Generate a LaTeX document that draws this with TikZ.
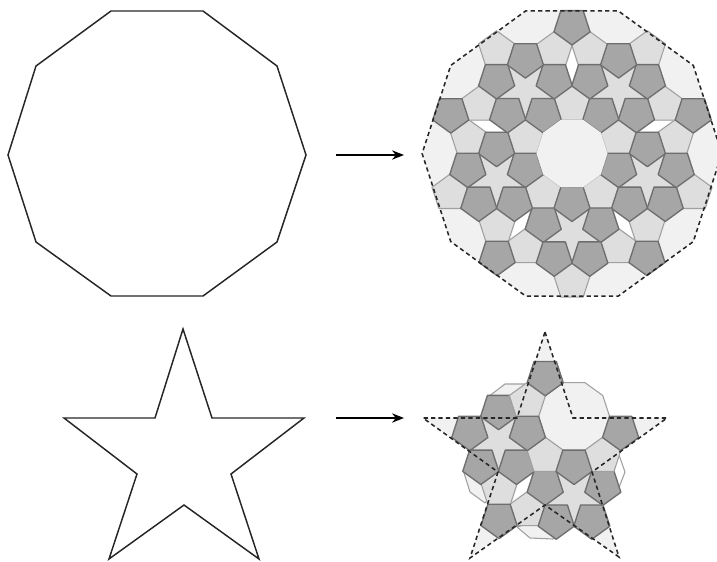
\documentclass[tikz,border=0pt]{standalone}
\usetikzlibrary{arrows.meta}
\definecolor{tdark}{HTML}{A6A6A6}
\definecolor{tdarke}{HTML}{6E6E6E}
\definecolor{tlight}{HTML}{DEDEDE}
\definecolor{tlighte}{HTML}{A0A0A0}
\definecolor{tpale}{HTML}{F1F1F1}
\tikzset{
  darktile/.style={fill=tdark,draw=tdarke,line width=1pt,line join=round},
  lighttile/.style={fill=tlight,draw=tlighte,line width=0.8pt,line join=round},
  startile/.style={fill=tlight,draw=none},
  paletile/.style={fill=tpale,draw=tlighte,line width=0.8pt,line join=round},
  gaptile/.style={fill=white,draw=none},
  solidoutline/.style={draw=black!85,line width=1.1pt,line join=miter},
  dashoutline/.style={draw=black!85,line width=1.15pt,dash pattern=on 3.2pt off 2.4pt},
  flowarrow/.style={draw=black,line width=1.05pt,-{Stealth[length=9pt,width=7pt]}}
}
\def\PR{19}
\newcommand{\darkp}[2]{\path[darktile,shift={(#1:#2)}] (270:\PR)--(342:\PR)--(54:\PR)--(126:\PR)--(198:\PR)--cycle;}
\newcommand{\lightp}[2]{\path[lighttile,shift={(#1:#2)}] (90:\PR)--(162:\PR)--(234:\PR)--(306:\PR)--(18:\PR)--cycle;}
\newcommand{\starp}[1]{\path[startile,shift={(#1:79.28)}] (270:31)--(306:11.57)--(342:31)--(18:11.57)--(54:31)--(90:11.57)--(126:31)--(162:11.57)--(198:31)--(234:11.57)--cycle;}
\newcommand{\gapr}[1]{\path[gaptile,rotate=#1-90] (0,72)--(5.5,88)--(0,104.5)--(-5.5,88)--cycle;}
\newcommand{\decag}[2]{(0:#2)--(36:#2)--(72:#2)--(108:#2)--(144:#2)--(180:#2)--(216:#2)--(252:#2)--(288:#2)--(324:#2)--cycle}
\begin{document}
\begin{tikzpicture}[x=0.75pt,y=-0.75pt]
\useasboundingbox (0,0) rectangle (717,561);
\clip (0,0) rectangle (717,561);

% left outlines
\path[solidoutline] (111,11)--(203,11)--(277,66)--(306,155)--(277,242)--(203,296)--(111,296)--(36,242)--(8,155)--(36,66)--cycle;
\path[solidoutline] (183,329)--(212,418)--(304,418)--(231,474)--(259,559)--(184,505)--(109,559)--(137,474)--(64,418)--(155,418)--cycle;

% arrows
\coordinate (a1s) at (336,155); \coordinate (a1e) at (404,155);
\coordinate (a2s) at (336,418); \coordinate (a2e) at (404,418);
\draw[flowarrow] (a1s) -- (a1e);
\draw[flowarrow] (a2s) -- (a2e);

% decagon tiling
\begin{scope}[shift={(572,153.5)},y=0.75pt]
  \fill[tpale] \decag{0}{149.9};
  \foreach \a in {90,162,234,306,18}{\gapr{\a}}
  \foreach \a in {270,342,54,126,198}{\lightp{\a}{128.27}\starp{\a}}
  \foreach \a in {90,162,234,306,18}{\lightp{\a}{49}}
  \foreach \a in {99.8,171.8,243.8,315.8,27.8,80.2,152.2,224.2,296.2,8.2}{\lightp{\a}{104.5}}
  \foreach \a in {270,342,54,126,198}{\darkp{\a}{49}}
  \foreach \a in {247.6,319.6,31.6,103.6,175.6,292.4,4.4,76.4,148.4,220.4}{\darkp{\a}{75.62}}
  \foreach \a in {260.27,332.27,44.27,116.27,188.27,279.73,351.73,63.73,135.73,207.73}{\darkp{\a}{105.3}}
  \foreach \a in {90,162,234,306,18}{\darkp{\a}{127.5}}
  \fill[tpale] \decag{0}{35.6};
  \path[dashoutline] \decag{0}{149.9};
\end{scope}

% star patch
\path[fill=tpale] (545,332)--(573,418)--(667,418)--(592,472)--(619,557)--(545,505)--(470,558)--(498,472)--(423,418)--(517,418)--cycle;
\path[paletile] (488,397)--(505,384)--(548,384)--(540,412)--(505,412)--cycle;
\path[paletile] (464,473)--(470,492)--(485,503)--(497,490)--(480,468)--cycle;
\path[paletile] (517,527)--(530,538)--(553,539)--(562,530)--(540,520)--cycle;
\path[fill=white,draw=tlighte,line width=0.8pt] (618,452)--(625,472)--(618,490)--(612,472)--cycle;
\begin{scope}[shift={(574,416.5)},y=0.75pt]
  \gapr{234}
  \starp{270}\starp{198}
  \foreach \a in {224.2,243.8}{\lightp{\a}{104.5}}
  \foreach \a in {175.6,220.4,247.6,292.4}{\darkp{\a}{75.62}}
  \foreach \a in {188.27,207.73,260.27,279.73}{\darkp{\a}{105.3}}
  \darkp{234}{127.5}
  \path[paletile] \decag{0}{35.6};
  \foreach \a in {234,306,162}{\lightp{\a}{49}}
  \foreach \a in {126,198,342,270}{\darkp{\a}{49}}
\end{scope}
\path[dashoutline] (545,332)--(573,418)--(667,418)--(592,472)--(619,557)--(545,505)--(470,558)--(498,472)--(423,418)--(517,418)--cycle;
\end{tikzpicture}
\end{document}
